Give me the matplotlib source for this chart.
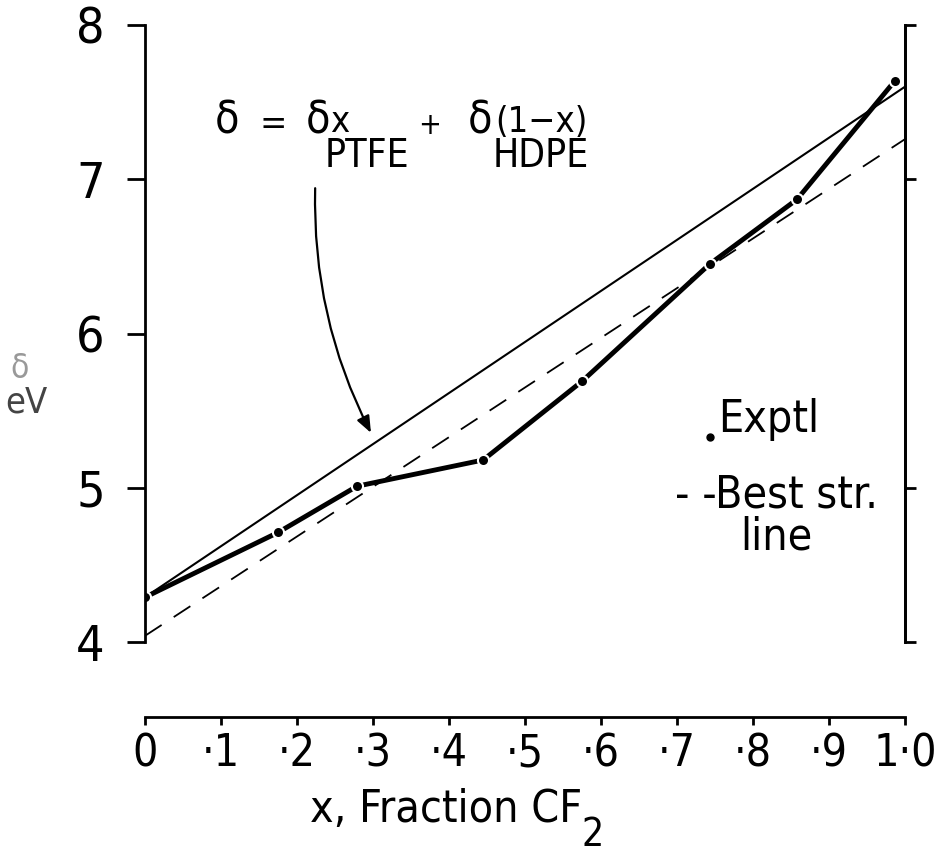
import matplotlib.pyplot as plt
from matplotlib.patches import FancyArrowPatch

plt.rcParams['font.family'] = ['DejaVu Sans']
plt.rcParams['font.stretch'] = 'condensed'

# measured solubility parameter vs fraction CF2
frac = [0, 0.175, 0.279, 0.445, 0.575, 0.743, 0.858, 0.987]
delta_exp = [4.29, 4.71, 5.01, 5.18, 5.69, 6.45, 6.87, 7.64]

# rule of mixtures end values and best straight line ends
delta_hdpe = 4.29
delta_ptfe = 7.60
best_x = [0, 1.0]
best_y = [4.04, 7.26]

xticks = [0, .1, .2, .3, .4, .5, .6, .7, .8, .9, 1.0]
xticklabels = ['0', '·1', '·2', '·3', '·4', '·5', '·6', '·7', '·8', '·9', '1·0']
yticks = [4, 5, 6, 7, 8]
right_ticks = [4, 5, 7, 8]

W, H = 937, 857
fig = plt.figure(figsize=(W / 100, H / 100), dpi=100)
ax = fig.add_axes([145 / W, 1 - 642 / H, 760 / W, 617 / H])

ax.plot([0, 1.0], [delta_hdpe, delta_ptfe], color='black', lw=1.5)
ax.plot(best_x, best_y, color='black', lw=1.3, dashes=(11, 8))
ax.plot(frac, delta_exp, color='black', lw=3.5, marker='o', ms=8,
        mec='white', mew=1.5, mfc='black', solid_capstyle='round')

ax.set_xlim(0, 1.0)
ax.set_ylim(4, 8)
ax.set_xticks(xticks)
ax.set_xticklabels(xticklabels)
ax.set_yticks(yticks)

for s in ['left', 'right', 'bottom']:
    ax.spines[s].set_linewidth(2)
ax.spines['top'].set_visible(False)
ax.spines['bottom'].set_position(('outward', 54))
ax.tick_params(axis='y', direction='out', length=13, width=2, pad=16,
               labelsize=36)
ax.tick_params(axis='x', direction='out', length=6, width=2, pad=5,
               labelsize=32)

ax2 = ax.twinx()
ax2.set_ylim(4, 8)
ax2.set_yticks(right_ticks)
ax2.set_yticklabels([])
ax2.tick_params(axis='y', direction='out', length=8, width=2)
for s in ['left', 'top', 'bottom']:
    ax2.spines[s].set_visible(False)
ax2.spines['right'].set_linewidth(2)

# x axis title, with the big dropped 2
xl = fig.text(310 / W, 1 - 822 / H, 'x, Fraction CF', fontsize=32,
              ha='left', va='baseline')
ax.annotate('2', xy=(1.0, 0.0), xycoords=xl, xytext=(-1, -15),
            textcoords='offset pixels', fontsize=28, ha='left', va='baseline')

fig.text(10 / W, 1 - 368 / H, 'δ', fontsize=24, color='#999999', ha='left', va='center')
fig.text(5 / W, 1 - 403 / H, 'eV', fontsize=26, color='#444444', ha='left', va='center')

# formula annotation
ax.text(0.092, 7.38, 'δ', fontsize=32, va='center', ha='left')
ax.text(0.151, 7.36, '=', fontsize=26, va='center', ha='left')
ax.text(0.211, 7.38, 'δ', fontsize=32, va='center', ha='left')
ax.text(0.244, 7.37, 'x', fontsize=26, va='center', ha='left')
ax.text(0.237, 7.15, 'PTFE', fontsize=28, va='center', ha='left')
ax.text(0.359, 7.35, '+', fontsize=22, va='center', ha='left')
ax.text(0.425, 7.38, 'δ', fontsize=32, va='center', ha='left')
ax.text(0.461, 7.37, '(1−x)', fontsize=26, va='center', ha='left')
ax.text(0.457, 7.15, 'HDPE', fontsize=28, va='center', ha='left')

arrow = FancyArrowPatch((0.224, 6.96), (0.299, 5.34),
                        connectionstyle='arc3,rad=0.13',
                        arrowstyle='-|>,head_length=10,head_width=4',
                        color='black', lw=1.6)
ax.add_patch(arrow)

# legend written by hand
ax.plot([0.743], [5.33], 'o', color='black', ms=5)
ax.text(0.754, 5.44, 'Exptl', fontsize=32, va='center', ha='left')
ax.text(0.697, 4.95, '- -Best str.', fontsize=32, va='center', ha='left')
ax.text(0.783, 4.68, 'line', fontsize=32, va='center', ha='left')

fig.savefig('out.png', dpi=100)
